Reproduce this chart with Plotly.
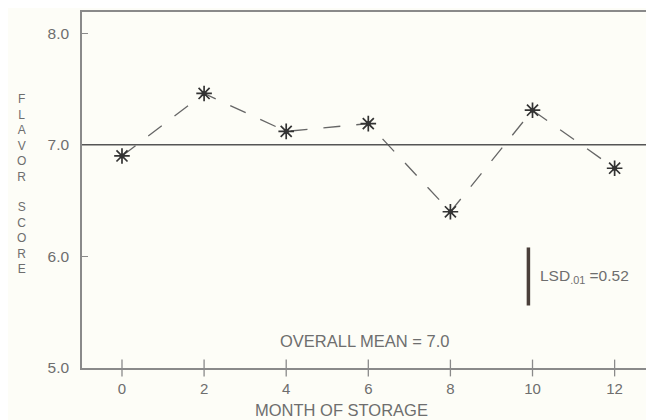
import plotly.graph_objects as go

# ---- data ----
months = [0, 2, 4, 6, 8, 10, 12]
flavor_score = [6.90, 7.46, 7.12, 7.19, 6.40, 7.31, 6.79]
overall_mean = 7.0
lsd_value = 0.52
lsd_month = 9.9
lsd_center = 5.82
x_ticks = [0, 2, 4, 6, 8, 10, 12]
y_ticks = [5.0, 6.0, 7.0, 8.0]
y_tick_labels = ["5.0", "6.0", "7.0", "8.0"]

TXT = "#6e6e6e"
FRAME = "#8a8a8a"
BG = "#fdfdf7"
FONT = "Liberation Sans, Arial, sans-serif"

fig = go.Figure()

# x-axis tick crosses (through the axis line)
fig.add_trace(go.Scatter(
    x=x_ticks, y=[y_ticks[0]] * len(x_ticks), mode="markers",
    marker=dict(symbol="line-ns-open", size=12, color=FRAME,
                line=dict(color=FRAME, width=1.3)),
    cliponaxis=False, hoverinfo="skip", showlegend=False))

# dashed data line with asterisk markers
fig.add_trace(go.Scatter(
    x=months, y=flavor_score, mode="lines",
    line=dict(color="#666666", width=1.3, dash="17px,16px"),
    showlegend=False))
fig.add_trace(go.Scatter(
    x=months, y=flavor_score, mode="markers",
    marker=dict(symbol="asterisk-open", size=13, color="#333333",
                line=dict(color="#333333", width=1.7)),
    showlegend=False))
fig.add_trace(go.Scatter(
    x=months, y=flavor_score, mode="markers",
    marker=dict(symbol="circle", size=5, color="#333333"),
    showlegend=False))

# LSD bar
fig.add_trace(go.Scatter(
    x=[lsd_month, lsd_month],
    y=[lsd_center - lsd_value / 2, lsd_center + lsd_value / 2],
    mode="lines", line=dict(color="#4a3f3a", width=3.5), showlegend=False))

# overall mean line
fig.add_shape(type="line", xref="paper", x0=0, x1=1, y0=overall_mean, y1=overall_mean,
              line=dict(color="#555555", width=1.6))

fig.add_annotation(x=5.92, y=5.24, xref="x", yref="y", text="OVERALL MEAN = 7.0",
                   showarrow=False, font=dict(size=16.5, color=TXT, family=FONT))
fig.add_annotation(x=10.13, y=lsd_center, xref="x", yref="y", xanchor="left",
                   text="LSD<sub><span style='color:#6e6e6e'>.01</span></sub> =0.52",
                   showarrow=False, font=dict(size=15.5, color=TXT, family=FONT))

# x-axis title
fig.add_annotation(x=5.34, y=0, xref="x", yref="paper", yanchor="middle", yshift=-42,
                   text="MONTH OF STORAGE", showarrow=False,
                   font=dict(size=16.5, color=TXT, family=FONT))

# vertical stacked y-axis title
fig.add_annotation(x=-0.1173, y=0.647, xref="paper", yref="paper",
                   text="<br>".join("FLAVOR"), showarrow=False,
                   font=dict(size=12, color=TXT, family=FONT))
fig.add_annotation(x=-0.1173, y=0.364, xref="paper", yref="paper",
                   text="<br>".join("SCORE"), showarrow=False,
                   font=dict(size=12, color=TXT, family=FONT))

# page body has an 8px margin, so the figure is 8px smaller and margins shifted
fig.update_layout(
    width=646, height=412,
    margin=dict(l=74, r=1, t=4, b=52),
    paper_bgcolor=BG, plot_bgcolor=BG,
    showlegend=False,
    font=dict(family=FONT, color=TXT),
)
fig.update_xaxes(
    range=[-0.974, 12.935], tickvals=x_ticks, ticktext=[str(m) for m in x_ticks],
    ticks="", ticklabelstandoff=6, automargin=False,
    showgrid=False, zeroline=False,
    showline=True, linecolor=FRAME, linewidth=1.5, mirror=True,
    tickfont=dict(size=15, color=TXT, family=FONT))
fig.update_yaxes(
    range=[5.0, 8.19], tickvals=y_ticks, ticktext=y_tick_labels,
    ticks="inside", ticklen=6, tickcolor=FRAME, tickwidth=1.3,
    ticklabelstandoff=8, automargin=False,
    showgrid=False, zeroline=False,
    showline=True, linecolor=FRAME, linewidth=1.5, mirror=True,
    tickfont=dict(size=15.5, color=TXT, family=FONT))

fig.write_html("out.html")
